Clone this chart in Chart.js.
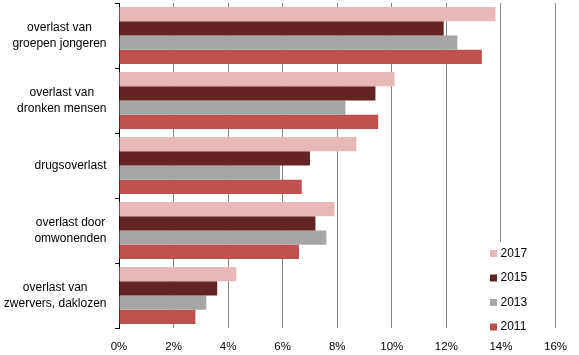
<!DOCTYPE html>
<html>
<head>
<meta charset="utf-8">
<script src="https://cdn.jsdelivr.net/npm/chart.js@4"></script>
<style>
html,body{margin:0;padding:0;background:#fff;}
#wrap{width:579px;height:355px;position:relative;}
</style>
</head>
<body>
<div id="wrap"><canvas id="c" width="579" height="355"></canvas></div>
<script>
const categories = [
  ['overlast van', 'groepen jongeren'],
  ['overlast van', 'dronken mensen'],
  ['drugsoverlast'],
  ['overlast door', 'omwonenden'],
  ['overlast van', 'zwervers, daklozen']
];
const seriesNames = ['2017', '2015', '2013', '2011'];
const values2017 = [13.8, 10.1, 8.7, 7.9, 4.3];
const values2015 = [11.9, 9.4, 7.0, 7.2, 3.6];
const values2013 = [12.4, 8.3, 5.9, 7.6, 3.2];
const values2011 = [13.3, 9.5, 6.7, 6.6, 2.8];
const xTickLabels = ['0%', '2%', '4%', '6%', '8%', '10%', '12%', '14%', '16%'];

const colors = ['#E6B9B8', '#632423', '#A6A6A6', '#C0504D'];
const FONT = '"Liberation Sans", Arial, sans-serif';

const yLabelPlugin = {
  id: 'yLabels',
  afterDraw(chart) {
    const y = chart.scales.y;
    const ctx = chart.ctx;
    ctx.save();
    ctx.font = '12px ' + FONT;
    ctx.fillStyle = '#000';
    ctx.textBaseline = 'middle';
    ctx.textAlign = 'center';
    const right = y.right - 12.5;
    const lh = 16;
    chart.data.labels.forEach((lab, i) => {
      const lines = Array.isArray(lab) ? lab : [lab];
      const w = Math.max(...lines.map(l => ctx.measureText(l).width));
      const cx = right - w / 2;
      const cy = y.getPixelForValue(i);
      lines.forEach((l, j) => ctx.fillText(l, cx, cy + (j - (lines.length - 1) / 2) * lh));
    });
    ctx.restore();
  }
};

const legendPlugin = {
  id: 'customLegend',
  afterDraw(chart) {
    const ctx = chart.ctx;
    ctx.save();
    ctx.fillStyle = '#fff';
    ctx.fillRect(484, 242, 60, 100);
    ctx.font = '12px ' + FONT;
    ctx.textBaseline = 'middle';
    ctx.textAlign = 'left';
    chart.data.datasets.forEach((ds, i) => {
      const cy = 253.5 + i * 24.5;
      ctx.fillStyle = ds.backgroundColor;
      ctx.fillRect(490, cy - 3.5, 7, 7);
      ctx.fillStyle = '#000';
      ctx.fillText(ds.label, 500.5, cy);
    });
    ctx.restore();
  }
};

const seriesValues = [values2017, values2015, values2013, values2011];

new Chart(document.getElementById('c'), {
  type: 'bar',
  data: {
    labels: categories,
    datasets: seriesNames.map((n, i) => ({
      label: n,
      data: seriesValues[i],
      backgroundColor: colors[i],
      borderWidth: 0,
      categoryPercentage: 0.88,
      barPercentage: 1.0
    }))
  },
  options: {
    indexAxis: 'y',
    responsive: false,
    animation: false,
    layout: { padding: { left: 0, right: 20, top: 3, bottom: 0 } },
    plugins: {
      legend: { display: false },
      tooltip: { enabled: false }
    },
    scales: {
      x: {
        min: 0,
        max: 16,
        ticks: {
          stepSize: 2,
          padding: 12,
          color: '#000',
          font: { family: FONT, size: 11.5 },
          callback: (v, idx) => xTickLabels[idx]
        },
        grid: { color: '#868686', lineWidth: 1, drawTicks: false },
        border: { display: false },
        afterFit: s => { s.height = 27; }
      },
      y: {
        ticks: { display: false },
        grid: { drawOnChartArea: false, drawTicks: true, tickLength: 4, color: '#000', offset: true },
        border: { display: true, color: '#000', width: 1 },
        afterFit: s => { s.width = 119; }
      }
    }
  },
  plugins: [yLabelPlugin, legendPlugin]
});
</script>
</body>
</html>
